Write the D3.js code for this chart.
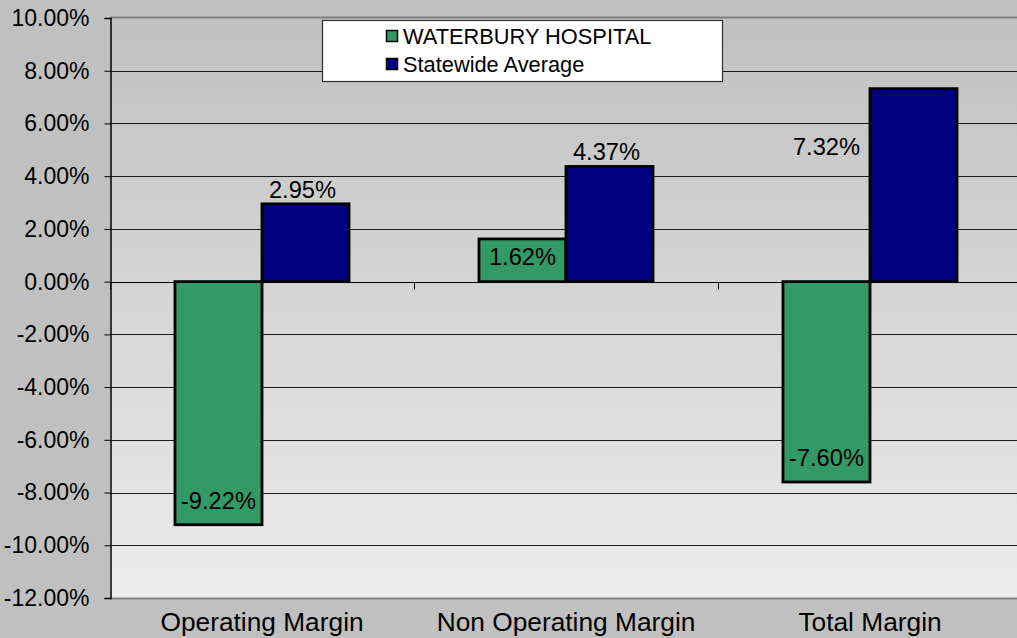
<!DOCTYPE html>
<html>
<head>
<meta charset="utf-8">
<script src="https://cdn.jsdelivr.net/npm/d3@7/dist/d3.min.js"></script>
<style>
  html, body { margin: 0; padding: 0; background: #c0c0c0; }
  svg { display: block; font-family: "Liberation Sans", Arial, sans-serif; }
</style>
</head>
<body>
<svg id="chart" width="1017" height="638"></svg>
<script>
// Margin comparison: hospital vs statewide average
const categories = ["Operating Margin", "Non Operating Margin", "Total Margin"];
const seriesNames = ["WATERBURY HOSPITAL", "Statewide Average"];
const hospitalValues = [-9.22, 1.62, -7.60];
const statewideValues = [2.95, 4.37, 7.32];
const yTickValues = [10, 8, 6, 4, 2, 0, -2, -4, -6, -8, -10, -12];

const colors = { "WATERBURY HOSPITAL": "#339966", "Statewide Average": "#000080" };

const svg = d3.select("#chart");
const W = 1017, H = 638;
const plot = { left: 110, top: 18, right: 1022, bottom: 598 };

const y = d3.scaleLinear().domain([-12, 10]).range([plot.bottom, plot.top]);
const x0 = d3.scaleBand().domain(categories).range([plot.left, plot.right]).paddingInner(0).paddingOuter(0);
const x1 = d3.scaleBand().domain(seriesNames).range([0, x0.bandwidth()]).paddingInner(0).paddingOuter(0.747);

const fmt = v => v.toFixed(2) + "%";

// Plot background gradient
const defs = svg.append("defs");
const grad = defs.append("linearGradient").attr("id", "plotBg")
  .attr("x1", 0).attr("y1", 0).attr("x2", 0).attr("y2", 1);
grad.append("stop").attr("offset", "0%").attr("stop-color", "#c0c0c0");
grad.append("stop").attr("offset", "100%").attr("stop-color", "#ececec");

svg.append("rect").attr("x", 0).attr("y", 0).attr("width", W).attr("height", H).attr("fill", "#c0c0c0");
svg.append("rect")
  .attr("x", plot.left).attr("y", plot.top)
  .attr("width", plot.right - plot.left).attr("height", plot.bottom - plot.top)
  .attr("fill", "url(#plotBg)");

// Horizontal gridlines
svg.append("g").selectAll("line")
  .data(yTickValues.filter(v => v !== 10 && v !== -12 && v !== 0))
  .join("line")
  .attr("x1", plot.left).attr("x2", plot.right)
  .attr("y1", d => Math.round(y(d)) + 0.5).attr("y2", d => Math.round(y(d)) + 0.5)
  .attr("stroke", "#1a1a1a").attr("stroke-width", 1);

// Plot frame (top and bottom)
svg.append("line").attr("x1", plot.left).attr("x2", plot.right)
  .attr("y1", plot.top - 0.5).attr("y2", plot.top - 0.5)
  .attr("stroke", "#808080").attr("stroke-width", 2);
svg.append("line").attr("x1", plot.left).attr("x2", plot.right)
  .attr("y1", plot.bottom + 0.5).attr("y2", plot.bottom + 0.5)
  .attr("stroke", "#808080").attr("stroke-width", 2);

// Y axis
const yAxis = d3.axisLeft(y).tickValues(yTickValues).tickSize(6).tickPadding(15).tickFormat(fmt);
const gy = svg.append("g").attr("transform", `translate(${plot.left + 0.5},0)`).call(yAxis);
gy.select(".domain").attr("stroke", "#000").attr("stroke-width", 1.5);
gy.selectAll(".tick line").attr("stroke", "#000");
gy.selectAll(".tick text").attr("font-size", "23px").attr("fill", "#000")
  .attr("font-family", "Liberation Sans, Arial, sans-serif");

// Bars
const rows = categories.map((c, i) => ({
  category: c,
  values: [
    { series: seriesNames[0], value: hospitalValues[i] },
    { series: seriesNames[1], value: statewideValues[i] }
  ]
}));

const groups = svg.append("g").selectAll("g")
  .data(rows).join("g")
  .attr("transform", d => `translate(${x0(d.category)},0)`);

groups.selectAll("rect")
  .data(d => d.values).join("rect")
  .attr("x", d => x1(d.series))
  .attr("width", x1.bandwidth())
  .attr("y", d => y(Math.max(0, d.value)))
  .attr("height", d => Math.abs(y(d.value) - y(0)))
  .attr("fill", d => colors[d.series])
  .attr("stroke", "#000").attr("stroke-width", 2.8);

// Zero axis with category ticks
const zeroY = Math.round(y(0)) + 0.5;
svg.append("line").attr("x1", plot.left).attr("x2", plot.right)
  .attr("y1", zeroY).attr("y2", zeroY).attr("stroke", "#000").attr("stroke-width", 1.2);
const xAxis = d3.axisBottom(x0).tickSize(0).tickPadding(0).tickFormat("");
const boundaries = categories.map(c => x0(c)).concat([plot.right]);
svg.append("g").selectAll("line").data(boundaries).join("line")
  .attr("x1", d => Math.round(d) + 0.5).attr("x2", d => Math.round(d) + 0.5)
  .attr("y1", zeroY).attr("y2", zeroY + 7)
  .attr("stroke", "#000").attr("stroke-width", 1);

// Category labels
svg.append("g").attr("transform", `translate(0,${plot.bottom})`).call(xAxis)
  .call(g => g.select(".domain").remove())
  .selectAll(".tick text").text(d => d)
  .attr("y", 33).attr("dy", 0)
  .attr("font-size", "26.3px").attr("fill", "#000")
  .attr("font-family", "Liberation Sans, Arial, sans-serif");

// Data labels
function labelPos(d, cat) {
  const bx = x0(cat) + x1(d.series);
  const bw = x1.bandwidth();
  const top = y(d.value);
  if (d.series === seriesNames[1]) {
    if (cat === "Total Margin") return { x: bx - bw / 2, y: top + 66 };
    return { x: bx + bw / 2 - 3, y: top - 6 };
  }
  if (d.value < 0) return { x: bx + bw / 2, y: top - 16 };
  return { x: bx + bw / 2, y: (top + y(0)) / 2 + 5 };
}
const labelG = svg.append("g");
rows.forEach(r => {
  r.values.forEach(v => {
    const p = labelPos(v, r.category);
    labelG.append("text")
      .attr("x", p.x).attr("y", p.y)
      .attr("text-anchor", "middle")
      .attr("font-size", "23.7px").attr("fill", "#000")
      .text(fmt(v.value));
  });
});

// Legend
const lg = svg.append("g").attr("transform", "translate(322,20)");
lg.append("rect").attr("x", 0.5).attr("y", 0.5).attr("width", 400).attr("height", 61)
  .attr("fill", "#fff").attr("stroke", "#303030").attr("stroke-width", 1.2);
seriesNames.forEach((s, i) => {
  const row = lg.append("g").attr("transform", `translate(64,${10 + i * 28})`);
  row.append("rect").attr("x", 0.5).attr("y", 0.5).attr("width", 11).attr("height", 11)
    .attr("fill", colors[s]).attr("stroke", "#000").attr("stroke-width", 1.5);
  row.append("text").attr("x", 17).attr("y", 13.5)
    .attr("font-size", "21.8px").attr("fill", "#000").text(s);
});
</script>
</body>
</html>
